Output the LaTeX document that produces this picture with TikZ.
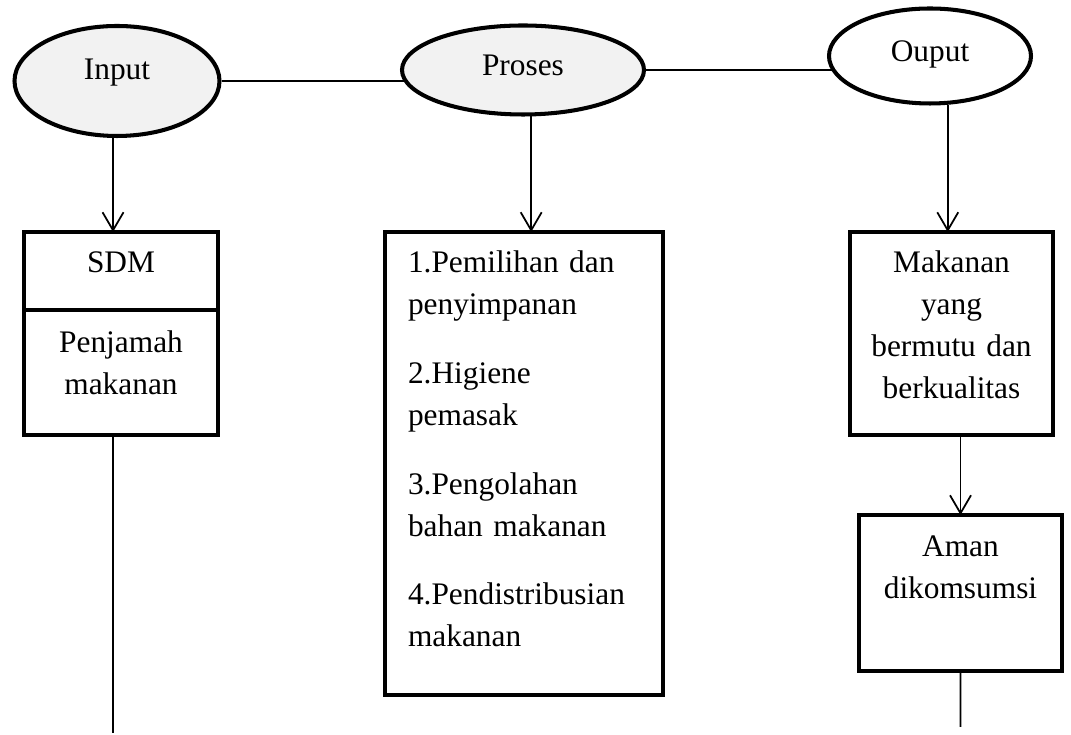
\documentclass[tikz,border=0pt]{standalone}
\usepackage{fontspec}
\setmainfont{Liberation Serif}
\usepackage{tikz}
\usetikzlibrary{arrows.meta,positioning,shapes.geometric,backgrounds}
\definecolor{ovalgray}{HTML}{F2F2F2}

\begin{document}
\begin{tikzpicture}[every node/.style={font=\fontsize{17.85}{23.8}\selectfont},
  oval/.style={ellipse,draw=black,line width=2.3pt,fill=ovalgray,inner sep=0pt,text height=.42cm,text depth=.18cm},
  blok/.style={rectangle,draw=black,line width=2.3pt,inner ysep=0pt,outer sep=0pt,anchor=north},
  link/.style={line width=1pt},
  arr/.style={line width=1pt,-{Straight Barb[length=0.36cm,width=0.42cm]}}]
\useasboundingbox (0,0) rectangle (21.42,14.7);
\node[oval,minimum width=4.1cm,minimum height=2.2cm,text depth=.46cm] (inp) at (2.34,13.08) {Input};
\node[oval,minimum width=4.84cm,minimum height=1.78cm] (pro) at (10.46,13.30) {Proses};
\node[oval,fill=white,minimum width=4.04cm,minimum height=1.9cm] (out) at (18.60,13.58) {Ouput};
\node[blok,inner xsep=0pt,text width=3.88cm,align=center,text height=.82cm,text depth=.74cm] (sdm) at (2.42,10.06) {SDM};
\node[blok,inner xsep=0pt,text width=3.88cm,align=center,text height=.86cm,text depth=1.64cm,below=0pt of sdm] (pjm) {Penjamah\\makanan};
\node[blok,inner xsep=.46cm,text width=4.64cm,align=left,text height=.82cm,text depth=8.44cm] (prc) at (10.48,10.06) {1.Pemilihan dan\\penyimpanan\\[.54cm]2.Higiene\\pemasak\\[.54cm]3.Pengolahan\\bahan makanan\\[.54cm]4.Pendistribusian\\makanan};
\node[blok,inner xsep=.2cm,text width=3.66cm,align=center,text height=.82cm,text depth=3.24cm] (mak) at (19.03,10.06) {Makanan\\yang\\bermutu dan\\berkualitas};
\node[blok,inner xsep=.2cm,text width=3.66cm,align=center,text height=.84cm,text depth=2.28cm,below=1.6cm of mak,xshift=.18cm] (aman) {Aman\\dikomsumsi};
\coordinate (sdmend) at (2.26,0.04);
\coordinate (amanend) at (19.21,0.16);
% lines between the ovals
\begin{scope}[on background layer]
\draw[link] (inp.east) -- (inp.east -| pro.center);
\draw[link] (pro.east) -- (pro.east -| out.center);
\end{scope}
\draw[arr] (inp.-94) -- (inp.-94 |- sdm.north);
\draw[arr] (pro.-80) -- (pro.-80 |- prc.north);
\draw[arr] (out.-70) -- (out.-70 |- mak.north);
\draw[arr] (mak.south -| aman.north) -- (aman.north);
\draw[link] (pjm.south -| sdmend) -- (sdmend);
\draw[link] (aman.south) -- (amanend);
\end{tikzpicture}
\end{document}
